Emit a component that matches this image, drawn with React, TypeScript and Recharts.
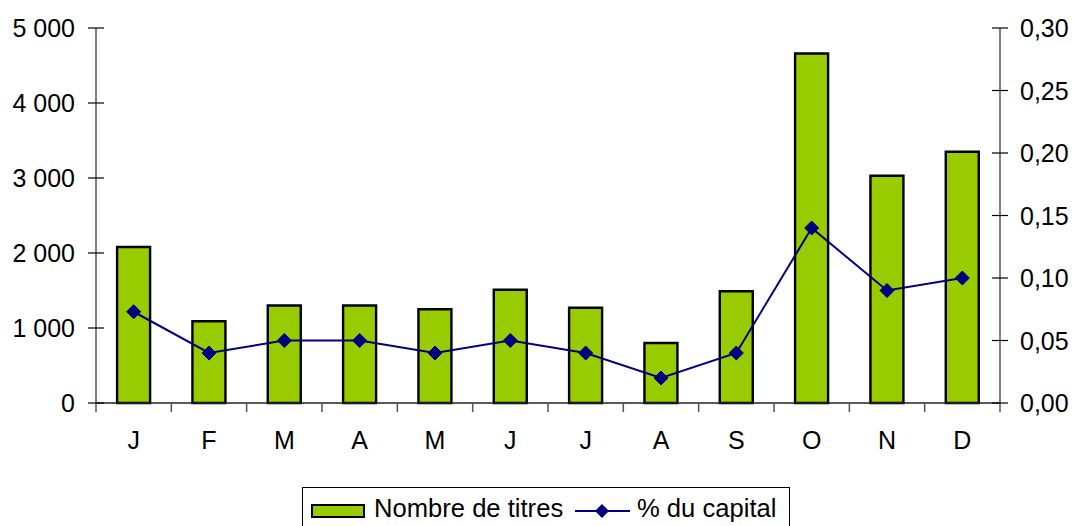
import React from 'react';
import { ComposedChart, Bar, Line, XAxis, YAxis } from 'recharts';

const months = ['J', 'F', 'M', 'A', 'M', 'J', 'J', 'A', 'S', 'O', 'N', 'D'];
const nombreTitres = [2080, 1090, 1300, 1300, 1250, 1510, 1270, 800, 1490, 4660, 3030, 3350];
const pctCapital = [0.073, 0.04, 0.05, 0.05, 0.04, 0.05, 0.04, 0.02, 0.04, 0.14, 0.09, 0.1];
const leftTicks = [0, 1000, 2000, 3000, 4000, 5000];
const rightTicks = [0, 0.05, 0.1, 0.15, 0.2, 0.25, 0.3];

const data = months.map((m, i) => ({ month: m, titres: nombreTitres[i], pct: pctCapital[i] }));

const W = 1073;
const H = 526;
const LEFT_W = 96;
const RIGHT_W = 73;
const BAND = (W - LEFT_W - RIGHT_W) / months.length;
const FONT = '"Liberation Sans", Arial, sans-serif';
const FS = 25;
const LFS = 25.6;

const fmtLeft = (v: number) => {
  if (v === 0) return '0';
  const s = String(v);
  return s.replace(/\B(?=(\d{3})+(?!\d))/g, ' ');
};
const fmtRight = (v: number) => v.toFixed(2).replace('.', ',');

const LeftTick = (props: any) => {
  const { x, y, payload } = props;
  return (
    <g>
      <line x1={x - 8} x2={x + 8} y1={y} y2={y} stroke="#000" strokeWidth={1.2} />
      <text x={x - 21} y={y} dy={9} textAnchor="end" fontSize={FS} fontFamily={FONT} fill="#000">
        {fmtLeft(payload.value)}
      </text>
    </g>
  );
};

const RightTick = (props: any) => {
  const { x, y, payload } = props;
  return (
    <g>
      <line x1={x - 8} x2={x + 8} y1={y} y2={y} stroke="#000" strokeWidth={1.2} />
      <text x={x + 20} y={y} dy={9} textAnchor="start" fontSize={FS} fontFamily={FONT} fill="#000">
        {fmtRight(payload.value)}
      </text>
    </g>
  );
};

const XTick = (props: any) => {
  const { x, y, payload, index } = props;
  const last = index === months.length - 1;
  return (
    <g>
      <line x1={x - BAND / 2} x2={x - BAND / 2} y1={y} y2={y + 9} stroke="#555" strokeWidth={1.5} />
      {last && <line x1={x + BAND / 2} x2={x + BAND / 2} y1={y} y2={y + 9} stroke="#555" strokeWidth={1.5} />}
      <text x={x} y={y + 46} textAnchor="middle" fontSize={FS} fontFamily={FONT} fill="#000">
        {payload.value}
      </text>
    </g>
  );
};

const Diamond = (props: any) => {
  const { cx, cy, index } = props;
  if (cx == null || cy == null) return null;
  const r = 7;
  return (
    <polygon
      key={`d-${index}`}
      points={`${cx},${cy - r} ${cx + r},${cy} ${cx},${cy + r} ${cx - r},${cy}`}
      fill="#000080"
      stroke="#000080"
    />
  );
};

export default function App() {
  return (
    <div style={{ position: 'fixed', left: 0, top: 0, width: W, height: H, overflow: 'hidden', background: '#fff' }}>
      <style>{`html,body{margin:0;padding:0;overflow:hidden;}`}</style>
      <ComposedChart
        width={W}
        height={H}
        data={data}
        margin={{ top: 28, right: 0, bottom: 83, left: 0 }}
        barCategoryGap="28%"
      >
        <XAxis
          dataKey="month"
          height={40}
          tickLine={false}
          tickSize={0}
          tickMargin={0}
          tick={<XTick />}
          axisLine={{ stroke: '#222', strokeWidth: 1.5 }}
          interval={0}
        />
        <YAxis
          yAxisId="left"
          orientation="left"
          width={LEFT_W}
          domain={[0, 5000]}
          ticks={leftTicks}
          tickLine={false}
          tickSize={0}
          tickMargin={0}
          tick={<LeftTick />}
          axisLine={{ stroke: '#808080', strokeWidth: 2 }}
          interval={0}
        />
        <YAxis
          yAxisId="right"
          orientation="right"
          width={RIGHT_W}
          domain={[0, 0.3]}
          ticks={rightTicks}
          tickLine={false}
          tickSize={0}
          tickMargin={0}
          tick={<RightTick />}
          axisLine={{ stroke: '#808080', strokeWidth: 2 }}
          interval={0}
        />
        <Bar
          yAxisId="left"
          dataKey="titres"
          name="Nombre de titres"
          fill="#99CC00"
          stroke="#000"
          strokeWidth={2.4}
          isAnimationActive={false}
        />
        <Line
          yAxisId="right"
          dataKey="pct"
          name="% du capital"
          stroke="#000080"
          strokeWidth={2}
          dot={<Diamond />}
          activeDot={false}
          isAnimationActive={false}
        />
      </ComposedChart>
      <div
        style={{
          position: 'absolute',
          left: 302,
          top: 487,
          width: 488,
          height: 50,
          border: '1px solid #000',
          boxSizing: 'border-box',
        }}
      >
        <svg width={488} height={50} style={{ position: 'absolute', left: -1, top: -1 }}>
          <rect x={10} y={18} width={52} height={12} fill="#99CC00" stroke="#000" strokeWidth={2} />
          <text x={72} y={30} fontSize={LFS} fontFamily={FONT} fill="#000">Nombre de titres</text>
          <line x1={273} x2={328} y1={24} y2={24} stroke="#000080" strokeWidth={2} />
          <polygon points="300,17 307,24 300,31 293,24" fill="#000080" />
          <text x={335} y={30} fontSize={LFS} fontFamily={FONT} fill="#000">% du capital</text>
        </svg>
      </div>
    </div>
  );
}
